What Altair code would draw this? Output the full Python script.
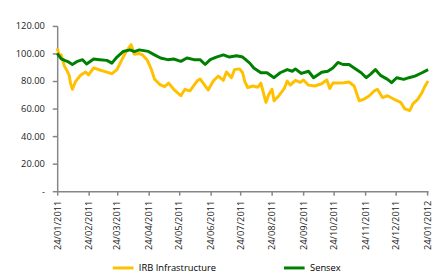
import altair as alt
import pandas as pd

irb_dates = [
    "2011-01-24", "2011-01-26", "2011-01-28", "2011-01-31", "2011-02-03", "2011-02-05",
    "2011-02-06", "2011-02-08", "2011-02-11", "2011-02-16", "2011-02-21", "2011-02-24",
    "2011-03-01", "2011-03-07", "2011-03-14", "2011-03-19", "2011-03-24", "2011-03-28",
    "2011-04-02", "2011-04-07", "2011-04-10", "2011-04-15", "2011-04-18", "2011-04-23",
    "2011-04-27", "2011-04-30", "2011-05-05", "2011-05-10", "2011-05-14", "2011-05-19",
    "2011-05-26", "2011-05-30", "2011-06-04", "2011-06-11", "2011-06-14", "2011-06-19",
    "2011-06-22", "2011-06-27", "2011-07-02", "2011-07-07", "2011-07-10", "2011-07-15",
    "2011-07-18", "2011-07-23", "2011-07-26", "2011-07-28", "2011-07-31", "2011-08-05",
    "2011-08-10", "2011-08-13", "2011-08-18", "2011-08-21", "2011-08-24", "2011-08-26",
    "2011-08-31", "2011-09-05", "2011-09-08", "2011-09-11", "2011-09-16", "2011-09-21",
    "2011-09-24", "2011-09-29", "2011-10-05", "2011-10-12", "2011-10-17", "2011-10-20",
    "2011-10-23", "2011-10-27", "2011-11-03", "2011-11-08", "2011-11-13", "2011-11-18",
    "2011-11-23", "2011-11-28", "2011-12-03", "2011-12-06", "2011-12-11", "2011-12-16",
    "2011-12-22", "2011-12-29", "2012-01-02", "2012-01-07", "2012-01-10", "2012-01-15",
    "2012-01-19", "2012-01-22", "2012-01-25",
]
irb_values = [
    103.8, 99.0, 99.0, 91.0, 87.1, 83.6,
    78.8, 74.0, 79.5, 84.2, 86.5, 84.5,
    89.5, 88.0, 86.4, 85.3, 88.3, 94.3,
    101.4, 106.4, 99.5, 100.0, 99.0, 95.0,
    88.3, 81.5, 77.6, 76.0, 78.5, 74.0,
    69.3, 74.0, 72.9, 80.0, 81.5, 76.4,
    73.5, 80.0, 83.6, 80.5, 86.5, 82.4,
    88.3, 88.8, 86.0, 80.0, 75.2, 76.4,
    75.5, 78.5, 64.5, 70.5, 74.0, 65.7,
    69.5, 74.5, 80.0, 77.0, 80.5, 79.0,
    80.8, 77.0, 76.4, 78.0, 80.8, 74.5,
    78.5, 78.5, 78.8, 79.3, 76.4, 65.7,
    66.9, 69.3, 72.9, 74.0, 68.0, 69.3,
    66.9, 64.5, 59.8, 58.6, 63.4, 66.9,
    71.6, 76.4, 80.0,
]

sensex_dates = [
    "2011-01-24", "2011-01-28", "2011-02-01", "2011-02-03", "2011-02-08", "2011-02-13",
    "2011-02-18", "2011-02-22", "2011-03-01", "2011-03-07", "2011-03-14", "2011-03-19",
    "2011-03-24", "2011-03-30", "2011-04-06", "2011-04-10", "2011-04-15", "2011-04-24",
    "2011-04-30", "2011-05-06", "2011-05-13", "2011-05-19", "2011-05-26", "2011-06-01",
    "2011-06-08", "2011-06-14", "2011-06-19", "2011-06-24", "2011-06-30", "2011-07-07",
    "2011-07-13", "2011-07-20", "2011-07-26", "2011-07-29", "2011-08-02", "2011-08-06",
    "2011-08-13", "2011-08-19", "2011-08-26", "2011-09-01", "2011-09-08", "2011-09-13",
    "2011-09-16", "2011-09-22", "2011-09-29", "2011-10-04", "2011-10-12", "2011-10-18",
    "2011-10-23", "2011-10-28", "2011-11-02", "2011-11-08", "2011-11-13", "2011-11-20",
    "2011-11-25", "2011-11-29", "2011-12-04", "2011-12-09", "2011-12-16", "2011-12-20",
    "2011-12-25", "2012-01-01", "2012-01-06", "2012-01-12", "2012-01-19", "2012-01-25",
]
sensex_values = [
    100.0, 96.0, 94.8, 94.3, 92.0, 94.3,
    95.5, 92.4, 96.0, 95.5, 95.0, 93.0,
    97.4, 101.4, 102.6, 101.4, 102.6, 101.5,
    99.0, 96.7, 95.5, 96.0, 94.3, 96.7,
    95.5, 95.5, 92.0, 95.5, 97.4, 99.0,
    97.4, 98.3, 97.4, 95.5, 93.0, 89.5,
    86.0, 86.0, 82.4, 86.0, 88.3, 87.1,
    88.8, 85.5, 87.1, 82.4, 86.4, 87.1,
    89.5, 93.5, 92.0, 92.0, 89.5, 86.0,
    82.4, 84.8, 88.3, 84.1, 81.2, 78.8,
    82.4, 81.2, 82.4, 83.6, 86.0, 88.3,
]

series_names = ["IRB Infrastructure", "Sensex"]
series_colors = ["#FFC000", "#008000"]
y_ticks = [0, 20, 40, 60, 80, 100, 120]
x_tick_months = [(2011, m) for m in range(1, 13)] + [(2012, 1)]

df = pd.concat([
    pd.DataFrame({"date": irb_dates, "value": irb_values, "series": series_names[0]}),
    pd.DataFrame({"date": sensex_dates, "value": sensex_values, "series": series_names[1]}),
])

x_tick_values = [alt.DateTime(year=y, month=m, date=24, utc=True) for (y, m) in x_tick_months]

font = "Open Sans"
axis_color = "#868686"

chart = alt.Chart(df).mark_line(strokeWidth=3, strokeJoin="round").encode(
    x=alt.X(
        "date:T",
        scale=alt.Scale(
            type="utc",
            domain=[alt.DateTime(year=2011, month=1, date=24, utc=True),
                    alt.DateTime(year=2012, month=1, date=25, utc=True)],
        ),
        axis=alt.Axis(
            values=x_tick_values,
            labelExpr="utcFormat(datum.value, '%d/%m/%Y')",
            labelAngle=-90,
            title=None,
            grid=False,
            tickSize=4,
            labelPadding=5,
            domainColor=axis_color,
            domainWidth=1.5,
            tickColor=axis_color,
            tickWidth=1.5,
            labelFontSize=9.5,
            labelFont=font,
            labelColor="#222222",
            labelOverlap=False,
        ),
    ),
    y=alt.Y(
        "value:Q",
        scale=alt.Scale(domain=[0, 120], nice=False),
        axis=alt.Axis(
            values=y_ticks,
            labelExpr="datum.value == 0 ? '-\u00a0\u00a0\u00a0' : format(datum.value, '.2f')",
            title=None,
            grid=False,
            tickSize=5,
            labelPadding=8,
            domainColor=axis_color,
            domainWidth=1.5,
            tickColor=axis_color,
            tickWidth=1.5,
            labelFontSize=9.5,
            labelFont=font,
            labelColor="#222222",
        ),
    ),
    color=alt.Color(
        "series:N",
        scale=alt.Scale(domain=series_names, range=series_colors),
        legend=alt.Legend(
            title=None,
            orient="none",
            legendX=55,
            legendY=234,
            direction="horizontal",
            symbolType="stroke",
            symbolSize=441,
            symbolStrokeWidth=3,
            labelFontSize=9.5,
            labelFont=font,
            labelColor="#000000",
            labelOffset=4,
            columnPadding=62,
            padding=0,
        ),
    ),
).properties(
    width=377,
    height=168,
    autosize=alt.AutoSizeParams(type="none"),
    padding={"left": 50, "top": 16, "right": 6, "bottom": 87},
).configure_view(stroke=None)

chart.save("out.html", embed_options={"renderer": "svg", "actions": False})
